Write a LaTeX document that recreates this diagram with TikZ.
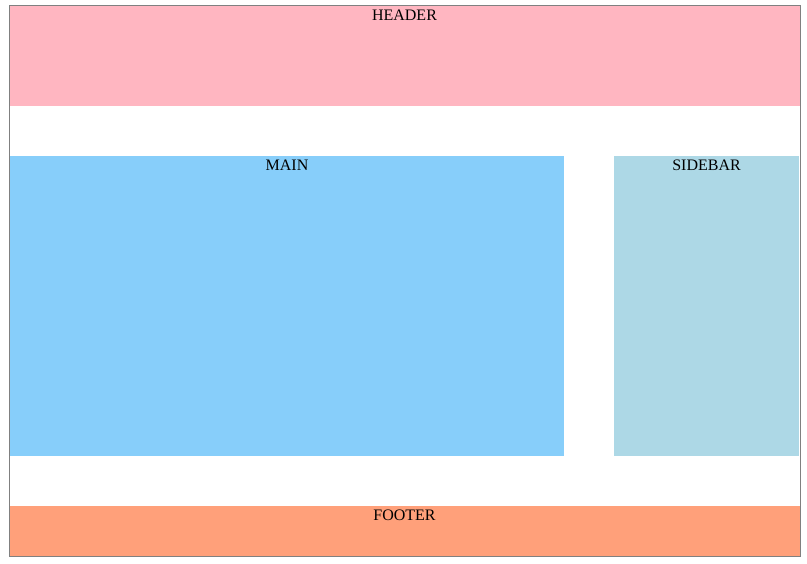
\documentclass[tikz,border=0pt]{standalone}
\usepackage{fontspec}
\setmainfont{Liberation Serif}
\definecolor{headerPink}{HTML}{FFB6C1}
\definecolor{mainBlue}{HTML}{87CEFA}
\definecolor{sidebarBlue}{HTML}{ADD8E6}
\definecolor{footerSalmon}{HTML}{FFA07A}
\begin{document}
\begin{tikzpicture}[x=1pt,y=-1pt,
  region/.style={draw=none, inner sep=0pt, outer sep=0pt, anchor=north west},
  regionLabel/.style={anchor=base, inner sep=0pt, font=\fontsize{16}{19}\selectfont}]
\useasboundingbox (0,0) rectangle (807,564);
\node[region, fill=headerPink, minimum width=790pt, minimum height=100pt] (header) at (10,6) {};
\node[region, fill=mainBlue, minimum width=554pt, minimum height=300pt] (main) at (10,156) {};
\node[region, fill=sidebarBlue, minimum width=185pt, minimum height=300pt] (sidebar) at (614,156) {};
\node[region, fill=footerSalmon, minimum width=790pt, minimum height=50pt] (footer) at (10,506) {};
\draw[draw={rgb,255:red,128;green,128;blue,128}, line width=1pt] (9.5,5.5) rectangle (800.5,556.5);
\node[regionLabel] (headerText) at (404.5,20.5) {HEADER};
\node[regionLabel] (mainText) at (287,170.5) {MAIN};
\node[regionLabel] (sidebarText) at (706.5,170.5) {SIDEBAR};
\node[regionLabel] (footerText) at (404.5,520.5) {FOOTER};
\end{tikzpicture}
\end{document}
